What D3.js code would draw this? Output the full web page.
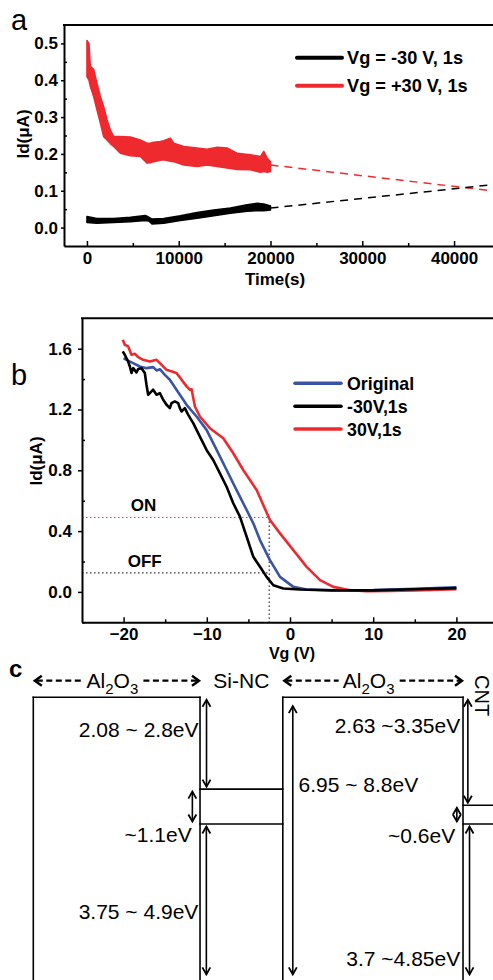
<!DOCTYPE html>
<html>
<head>
<meta charset="utf-8">
<script src="https://cdnjs.cloudflare.com/ajax/libs/d3/7.8.5/d3.min.js"></script>
<style>
  body { margin: 0; background: #fff; }
  svg { display: block; font-family: "Liberation Sans", Arial, Helvetica, sans-serif; }
  .axis path, .axis line { stroke: #000; }
  .axis path { stroke-width: 2; }
  .axis line { stroke-width: 1.5; }
  .axis text { font-weight: bold; fill: #000; font-size: 17px; font-family: "Liberation Sans", Arial, sans-serif; }
</style>
</head>
<body>
<svg id="fig" width="493" height="980"></svg>
<script>
// ---------- panel a : Id vs time after a 1 s gate pulse ----------
var timeTicks = [0, 10000, 20000, 30000, 40000];
var timeMinor = [5000, 15000, 25000, 35000, 45000];
var idTicksA = [0, 0.1, 0.2, 0.3, 0.4, 0.5];
var idMinorA = [0.05, 0.15, 0.25, 0.35, 0.45];
// [time (s), lower edge, upper edge] of the noisy measured traces
var redBand = [
  [0, 0.41, 0.508], [220, 0.40, 0.50], [370, 0.383, 0.438], [730, 0.356, 0.43],
  [1090, 0.32, 0.392], [1460, 0.284, 0.356], [1820, 0.247, 0.329], [2190, 0.238, 0.293],
  [2550, 0.228, 0.265], [2910, 0.22, 0.247], [3640, 0.202, 0.247], [4730, 0.195, 0.246],
  [5820, 0.193, 0.238], [6550, 0.175, 0.229], [6910, 0.176, 0.229], [7270, 0.179, 0.232],
  [8000, 0.183, 0.234], [8360, 0.184, 0.236], [9090, 0.18, 0.243], [9450, 0.179, 0.229],
  [10550, 0.170, 0.22], [12000, 0.166, 0.216], [13090, 0.170, 0.213], [14180, 0.166, 0.218],
  [15270, 0.162, 0.216], [16360, 0.158, 0.202], [17820, 0.157, 0.198], [18910, 0.150, 0.193],
  [19270, 0.152, 0.207], [19630, 0.150, 0.189], [20000, 0.152, 0.179]
];
var blackBand = [
  [0, 0.014, 0.030], [1090, 0.012, 0.025], [2910, 0.014, 0.0245], [4730, 0.016, 0.028],
  [6370, 0.019, 0.033], [6730, 0.018, 0.028], [7090, 0.010, 0.023], [8360, 0.012, 0.0245],
  [10180, 0.019, 0.032], [12000, 0.025, 0.041], [13820, 0.032, 0.048], [15630, 0.039, 0.053],
  [17450, 0.044, 0.062], [18540, 0.046, 0.066], [19270, 0.046, 0.064], [20000, 0.048, 0.059]
];
var redTrend = [[20000, 0.17], [47500, 0.09]];
var blackTrend = [[20000, 0.053], [47500, 0.125]];
var legendA = ["Vg = -30 V, 1s", "Vg = +30 V, 1s"];

// ---------- panel b : transfer curves ----------
var vgTicks = [-20, -10, 0, 10, 20];
var vgMinor = [-15, -5, 5, 15];
var idTicksB = [0, 0.4, 0.8, 1.2, 1.6];
var idMinorB = [-0.2, 0.2, 0.6, 1.0, 1.4];
var origCurve = [
  [-20.0, 1.538], [-19.65, 1.527], [-18.85, 1.505], [-18.05, 1.483], [-17.25, 1.472],
  [-16.45, 1.479], [-16.04, 1.457], [-15.64, 1.465], [-15.04, 1.428], [-14.44, 1.396],
  [-13.64, 1.330], [-12.43, 1.231], [-11.23, 1.154], [-10.03, 1.066], [-8.82, 0.934],
  [-7.62, 0.802], [-6.42, 0.670], [-5.21, 0.539], [-4.41, 0.451], [-3.61, 0.341],
  [-2.41, 0.209], [-1.2, 0.099], [0.4, 0.033], [2.0, 0.016], [5.21, 0.011],
  [10, 0.012], [15, 0.02], [20, 0.03]
];
var negCurve = [
  [-20.1, 1.582], [-19.86, 1.560], [-19.45, 1.516], [-19.25, 1.483], [-19.05, 1.440],
  [-18.85, 1.472], [-18.45, 1.444], [-18.25, 1.466], [-17.85, 1.472], [-17.45, 1.440],
  [-17.25, 1.363], [-17.05, 1.297], [-16.65, 1.319], [-16.45, 1.330], [-16.04, 1.297],
  [-15.64, 1.308], [-15.24, 1.264], [-14.84, 1.231], [-14.44, 1.209], [-14.24, 1.242],
  [-13.84, 1.253], [-13.44, 1.242], [-13.24, 1.209], [-13.04, 1.187], [-12.64, 1.209],
  [-12.23, 1.165], [-11.63, 1.110], [-10.83, 1.022], [-10.03, 0.934], [-9.23, 0.868],
  [-8.42, 0.780], [-7.62, 0.692], [-6.82, 0.583], [-6.02, 0.495], [-5.21, 0.363],
  [-4.41, 0.231], [-3.61, 0.165], [-2.81, 0.099], [-2.0, 0.044], [-0.8, 0.022],
  [1.2, 0.016], [5, 0.01], [10, 0.01], [15, 0.017], [20, 0.025]
];
var posCurve = [
  [-20.1, 1.659], [-19.86, 1.626], [-19.45, 1.615], [-19.05, 1.560], [-18.65, 1.567],
  [-18.25, 1.545], [-17.65, 1.527], [-16.85, 1.516], [-16.04, 1.527], [-15.64, 1.505],
  [-14.84, 1.461], [-13.64, 1.440], [-12.43, 1.352], [-12.03, 1.330], [-11.83, 1.334],
  [-11.43, 1.220], [-10.83, 1.154], [-9.63, 1.077], [-8.02, 1.011], [-6.82, 0.912],
  [-5.62, 0.802], [-4.01, 0.670], [-2.41, 0.473], [-1.2, 0.385], [0.4, 0.275],
  [2.0, 0.165], [3.61, 0.077], [5.21, 0.033], [7.22, 0.011], [9.23, 0.005],
  [12.03, 0.006], [15, 0.01], [20, 0.018]
];
var legendB = ["Original", "-30V,1s", "30V,1s"];
var onLevel = 0.49, offLevel = 0.125, vgRead = -2.5;

// ---------- panel c : band diagram (layer units across, eV down) ----------
var bandLines = [
  [0, 0, 10.01, 0], [0, 0, 0, -9.5], [10.01, 0, 10.01, -9.5],
  [10.01, -2.89, 14.98, -2.89], [10.01, -3.99, 14.98, -3.99],
  [14.98, 0, 25.8, 0], [14.98, 0, 14.98, -9.5], [25.8, 0, 25.8, -9.5],
  [25.8, -3.40, 28, -3.40], [25.8, -3.99, 28, -3.99]
];
var gapArrows = [
  [10.4, 0, -2.89], [9.55, -2.89, -3.99], [10.39, -3.99, -8.8], [15.58, -0.2, -8.8],
  [26.09, 0, -3.40], [25.43, -3.40, -3.99], [26.19, -3.99, -8.8]
];
var gapLabels = ["2.08 ~ 2.8eV", "~1.1eV", "3.75 ~ 4.9eV", "6.95 ~ 8.8eV",
                 "2.63 ~3.35eV", "~0.6eV", "3.7 ~4.85eV"];
var oxideLayers = [[0, 10.01], [14.98, 25.8]];

var RED = "#ee2a2f", BLUE = "#3a54a5";
var svg = d3.select("#fig");

function minorAxis(g, axis, vals, size) {
  g.call(axis.tickValues(vals).tickFormat("").tickSize(size));
  g.select(".domain").remove();
}

// ================= panel a =================
var xA = d3.scaleLinear().domain([-2500, 47500]).range([64, 522.9]);
var yA = d3.scaleLinear().domain([-0.05, 0.55]).range([246, 25]);
var ga = svg.append("g");

ga.append("path").datum(redBand)
  .attr("d", d3.area().x(function(d) { return xA(d[0]); })
    .y0(function(d) { return yA(d[1]); }).y1(function(d) { return yA(d[2]); }))
  .attr("fill", RED).attr("stroke", RED).attr("stroke-width", 1.5).attr("stroke-linejoin", "round");
ga.append("path").datum(blackBand)
  .attr("d", d3.area().x(function(d) { return xA(d[0]); })
    .y0(function(d) { return yA(d[1]); }).y1(function(d) { return yA(d[2]); }))
  .attr("fill", "#000").attr("stroke", "#000").attr("stroke-width", 1.5).attr("stroke-linejoin", "round");

var lineA = d3.line().x(function(d) { return xA(d[0]); }).y(function(d) { return yA(d[1]); });
ga.append("path").datum(redTrend).attr("d", lineA)
  .attr("fill", "none").attr("stroke", RED).attr("stroke-width", 1.5).attr("stroke-dasharray", "8,6");
ga.append("path").datum(blackTrend).attr("d", lineA)
  .attr("fill", "none").attr("stroke", "#000").attr("stroke-width", 1.5).attr("stroke-dasharray", "8,6");

ga.append("g").attr("class", "axis").attr("transform", "translate(0,246)")
  .call(d3.axisBottom(xA).tickValues(timeTicks).tickFormat(d3.format("d"))
    .tickSizeInner(-5).tickSizeOuter(0).tickPadding(6));
ga.append("g").attr("class", "axis").attr("transform", "translate(0,246)")
  .call(minorAxis, d3.axisBottom(xA), timeMinor, -3);
ga.append("g").attr("class", "axis").attr("transform", "translate(64,0)")
  .call(d3.axisLeft(yA).tickValues(idTicksA).tickFormat(d3.format(".1f"))
    .tickSizeInner(3).tickSizeOuter(0).tickPadding(3));
ga.append("g").attr("class", "axis").attr("transform", "translate(64,0)")
  .call(minorAxis, d3.axisLeft(yA), idMinorA, -3);
ga.append("line").attr("x1", 63).attr("x2", 493).attr("y1", 25).attr("y2", 25)
  .attr("stroke", "#000").attr("stroke-width", 2);

ga.append("text").attr("x", 275).attr("y", 285).attr("text-anchor", "middle")
  .attr("font-weight", "bold").attr("font-size", 17).text("Time(s)");
ga.append("text").attr("transform", "translate(29,134) rotate(-90)").attr("text-anchor", "middle")
  .attr("font-weight", "bold").attr("font-size", 17).text("Id(\u03bcA)");
ga.append("text").attr("x", 11).attr("y", 30).attr("font-size", 29).text("a");

var legA = ga.selectAll(".legA").data(legendA).enter().append("g")
  .attr("transform", function(d, i) { return "translate(297," + (57.7 + i * 28) + ")"; });
legA.append("line").attr("x1", 0).attr("x2", 45)
  .attr("stroke", function(d, i) { return i ? RED : "#000"; })
  .attr("stroke-width", 4).attr("stroke-linecap", "round");
legA.append("text").attr("x", 50).attr("y", 6.5).attr("font-weight", "bold").attr("font-size", 18.2)
  .text(function(d) { return d; });

// ================= panel b =================
var xB = d3.scaleLinear().domain([-25, 25]).range([82, 498]);
var yB = d3.scaleLinear().domain([-0.2, 1.8]).range([622.3, 318.3]);
var gb = svg.append("g");
var lineB = d3.line().x(function(d) { return xB(d[0]); }).y(function(d) { return yB(d[1]); });

gb.append("line").attr("x1", xB(-25)).attr("x2", xB(vgRead)).attr("y1", yB(onLevel)).attr("y2", yB(onLevel))
  .attr("stroke", RED).attr("stroke-width", 1).attr("stroke-dasharray", "1.5,2.5");
gb.append("line").attr("x1", xB(-25)).attr("x2", xB(vgRead)).attr("y1", yB(offLevel)).attr("y2", yB(offLevel))
  .attr("stroke", "#000").attr("stroke-width", 1).attr("stroke-dasharray", "1.5,2.5");
gb.append("line").attr("x1", xB(vgRead)).attr("x2", xB(vgRead)).attr("y1", yB(onLevel)).attr("y2", yB(-0.2))
  .attr("stroke", "#000").attr("stroke-width", 1).attr("stroke-dasharray", "1.5,2.5");

[[posCurve, RED], [origCurve, BLUE], [negCurve, "#000"]].forEach(function(c) {
  gb.append("path").datum(c[0]).attr("d", lineB).attr("fill", "none")
    .attr("stroke", c[1]).attr("stroke-width", 2.6).attr("stroke-linejoin", "round");
});

gb.append("g").attr("class", "axis").attr("transform", "translate(0,622.3)")
  .call(d3.axisBottom(xB).tickValues(vgTicks).tickSizeInner(-5).tickSizeOuter(0).tickPadding(6));
gb.append("g").attr("class", "axis").attr("transform", "translate(0,622.3)")
  .call(minorAxis, d3.axisBottom(xB), vgMinor, -3);
gb.append("g").attr("class", "axis").attr("transform", "translate(82,0)")
  .call(d3.axisLeft(yB).tickValues(idTicksB).tickFormat(d3.format(".1f"))
    .tickSizeInner(4).tickSizeOuter(0).tickPadding(6));
gb.append("g").attr("class", "axis").attr("transform", "translate(82,0)")
  .call(minorAxis, d3.axisLeft(yB), idMinorB, -3);
gb.append("line").attr("x1", 81).attr("x2", 493).attr("y1", 318.3).attr("y2", 318.3)
  .attr("stroke", "#000").attr("stroke-width", 2);

gb.append("text").attr("x", xB(-19.15)).attr("y", yB(onLevel) - 6)
  .attr("font-weight", "bold").attr("font-size", 17).text("ON");
gb.append("text").attr("x", xB(-19.5)).attr("y", yB(offLevel) - 6)
  .attr("font-weight", "bold").attr("font-size", 17).text("OFF");
gb.append("text").attr("x", 292).attr("y", 659).attr("text-anchor", "middle")
  .attr("font-weight", "bold").attr("font-size", 16).text("Vg (V)");
gb.append("text").attr("transform", "translate(42,461) rotate(-90)").attr("text-anchor", "middle")
  .attr("font-weight", "bold").attr("font-size", 17).text("Id(\u03bcA)");
gb.append("text").attr("x", 11).attr("y", 385).attr("font-size", 29).text("b");

var legB = gb.selectAll(".legB").data(legendB).enter().append("g")
  .attr("transform", function(d, i) { return "translate(295," + (383.3 + i * 22.9) + ")"; });
legB.append("line").attr("x1", 0).attr("x2", 46)
  .attr("stroke", function(d, i) { return [BLUE, "#000", RED][i]; })
  .attr("stroke-width", 3.5).attr("stroke-linecap", "round");
legB.append("text").attr("x", 52).attr("y", 6.5).attr("font-weight", "bold").attr("font-size", 17.8)
  .text(function(d) { return d; });

// ================= panel c =================
var cx = d3.scaleLinear().domain([0, 27.6]).range([33.3, 493]);
var cy = d3.scaleLinear().domain([0, -8.9]).range([697.3, 980]);
var gc = svg.append("g");

gc.selectAll(".band").data(bandLines).enter().append("line")
  .attr("x1", function(d) { return cx(d[0]); }).attr("y1", function(d) { return cy(d[1]); })
  .attr("x2", function(d) { return cx(d[2]); }).attr("y2", function(d) { return cy(d[3]); })
  .attr("stroke", "#000").attr("stroke-width", 1.6).attr("stroke-linecap", "square");

var arrows = gc.selectAll(".gap").data(gapArrows).enter().append("g");
arrows.append("line")
  .attr("x1", function(d) { return cx(d[0]); }).attr("x2", function(d) { return cx(d[0]); })
  .attr("y1", function(d) { return cy(d[1]) + 2.5; }).attr("y2", function(d) { return cy(d[2]) - 2.5; })
  .attr("stroke", "#000").attr("stroke-width", 1.6);
arrows.append("path")
  .attr("d", function(d) {
    var x = cx(d[0]), t = cy(d[1]) + 2.5, b = cy(d[2]) - 2.5;
    return "M" + (x - 4) + "," + (t + 7) + "L" + x + "," + t + "L" + (x + 4) + "," + (t + 7) +
      "M" + (x - 4) + "," + (b - 7) + "L" + x + "," + b + "L" + (x + 4) + "," + (b - 7);
  })
  .attr("fill", "none").attr("stroke", "#000").attr("stroke-width", 1.8);

// label anchor points [layer x, eV, anchor]
var labelPos = [[9.92, -1.24, "end"], [9.51, -4.54, "end"], [9.91, -6.99, "end"], [15.92, -2.97, "start"],
                [25.63, -1.11, "end"], [25.33, -4.58, "end"], [25.63, -8.45, "end"]];
gc.selectAll(".gapLabel").data(gapLabels).enter().append("text")
  .attr("x", function(d, i) { return cx(labelPos[i][0]); })
  .attr("y", function(d, i) { return cy(labelPos[i][1]); })
  .attr("text-anchor", function(d, i) { return labelPos[i][2]; })
  .attr("font-size", 21).text(function(d) { return d; });

// layer names with dashed double arrows
oxideLayers.forEach(function(l) {
  var tipL = cx(l[0]) + 1.5, tipR = cx(l[1]) - 1, mid = (tipL + tipR) / 2 - 4.5, y = 680.7;
  gc.append("path")
    .attr("d", "M" + (tipL + 2) + "," + y + "L" + (mid - 30) + "," + y +
      "M" + (mid + 31) + "," + y + "L" + (tipR - 2) + "," + y)
    .attr("stroke", "#000").attr("stroke-width", 2.2).attr("stroke-dasharray", "6,3.5");
  gc.append("path")
    .attr("d", "M" + (tipL + 7) + "," + (y - 5) + "L" + tipL + "," + y + "L" + (tipL + 7) + "," + (y + 5) +
      "M" + (tipR - 7) + "," + (y - 5) + "L" + tipR + "," + y + "L" + (tipR - 7) + "," + (y + 5))
    .attr("fill", "none").attr("stroke", "#000").attr("stroke-width", 2.4);
  var t = gc.append("text").attr("x", mid).attr("y", 688).attr("text-anchor", "middle").attr("font-size", 21);
  t.append("tspan").text("Al");
  t.append("tspan").attr("font-size", 15).attr("dy", 6).text("2");
  t.append("tspan").attr("dy", -6).text("O");
  t.append("tspan").attr("font-size", 15).attr("dy", 6).text("3");
});
gc.append("text").attr("x", 213.3).attr("y", 688).attr("font-size", 21).text("Si-NC");
gc.append("text").attr("transform", "translate(475,675) rotate(90)").attr("font-size", 20).text("CNT");
gc.append("text").attr("x", 9).attr("y", 677).attr("font-size", 24).attr("font-weight", "bold").text("c");
</script>
</body>
</html>
